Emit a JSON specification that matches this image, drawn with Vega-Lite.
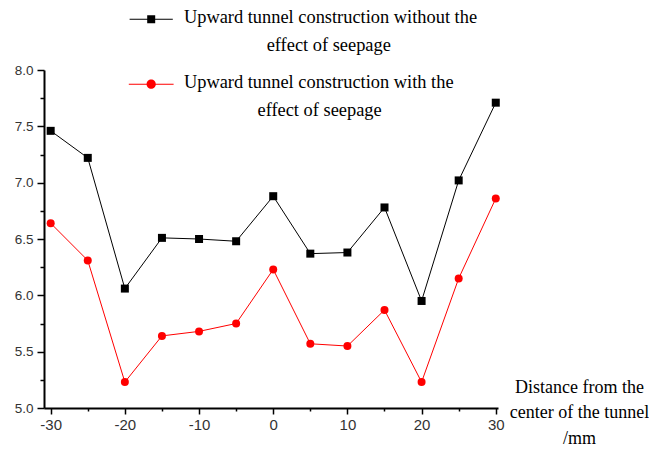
{
  "$schema": "https://vega.github.io/schema/vega-lite/v6.json",
  "width": 454,
  "height": 338,
  "autosize": {"type": "none"},
  "padding": {"left": 44, "top": 70, "right": 151, "bottom": 44},
  "background": "white",
  "config": {"view": {"stroke": null}, "axis": {"grid": false}},
  "data": {
    "values": [
      {"x": -30, "y": 7.46, "s": "A"},
      {"x": -25, "y": 7.22, "s": "A"},
      {"x": -20, "y": 6.06, "s": "A"},
      {"x": -15, "y": 6.51, "s": "A"},
      {"x": -10, "y": 6.50, "s": "A"},
      {"x": -5, "y": 6.48, "s": "A"},
      {"x": 0, "y": 6.88, "s": "A"},
      {"x": 5, "y": 6.37, "s": "A"},
      {"x": 10, "y": 6.38, "s": "A"},
      {"x": 15, "y": 6.78, "s": "A"},
      {"x": 20, "y": 5.95, "s": "A"},
      {"x": 25, "y": 7.02, "s": "A"},
      {"x": 30, "y": 7.71, "s": "A"},
      {"x": -30, "y": 6.64, "s": "B"},
      {"x": -25, "y": 6.31, "s": "B"},
      {"x": -20, "y": 5.23, "s": "B"},
      {"x": -15, "y": 5.64, "s": "B"},
      {"x": -10, "y": 5.68, "s": "B"},
      {"x": -5, "y": 5.75, "s": "B"},
      {"x": 0, "y": 6.23, "s": "B"},
      {"x": 5, "y": 5.57, "s": "B"},
      {"x": 10, "y": 5.55, "s": "B"},
      {"x": 15, "y": 5.87, "s": "B"},
      {"x": 20, "y": 5.23, "s": "B"},
      {"x": 25, "y": 6.15, "s": "B"},
      {"x": 30, "y": 6.86, "s": "B"}
    ]
  },
  "encoding": {
    "x": {
      "field": "x",
      "type": "quantitative",
      "scale": {"domain": [-30.9, 30.3], "nice": false, "zero": false},
      "axis": {
        "values": [-30, -25, -20, -15, -10, -5, 0, 5, 10, 15, 20, 25, 30],
        "labelExpr": "datum.value % 10 === 0 ? ('' + datum.value) : ''",
        "tickSize": {"condition": {"test": "datum.value % 10 === 0", "value": 6}, "value": 3},
        "tickWidth": 1.5,
        "tickColor": "#000000",
        "domainColor": "#000000",
        "domainWidth": 2,
        "labelFont": "Liberation Sans",
        "labelFontSize": 15,
        "labelColor": "#333333",
        "labelPadding": 3,
        "title": ["Distance from the", "center of the tunnel", "/mm"],
        "titleFont": "Liberation Serif",
        "titleFontSize": 18,
        "titleFontWeight": "normal",
        "titleColor": "#000000",
        "titleAlign": "center",
        "titleBaseline": "alphabetic",
        "titleX": 535,
        "titleY": -16,
        "titleLineHeight": 25.5
      }
    },
    "y": {
      "field": "y",
      "type": "quantitative",
      "scale": {"domain": [5, 8], "nice": false, "zero": false},
      "axis": {
        "values": [5, 5.25, 5.5, 5.75, 6, 6.25, 6.5, 6.75, 7, 7.25, 7.5, 7.75, 8],
        "labelExpr": "(datum.value * 2) % 1 === 0 ? format(datum.value, '.1f') : ''",
        "tickSize": {"condition": {"test": "(datum.value * 2) % 1 === 0", "value": 7}, "value": 4},
        "tickWidth": 1.5,
        "tickColor": "#000000",
        "domainColor": "#000000",
        "domainWidth": 2,
        "labelFont": "Liberation Sans",
        "labelFontSize": 13.5,
        "labelColor": "#333333",
        "labelPadding": 4,
        "title": null
      }
    }
  },
  "layer": [
    {
      "transform": [{"filter": "false"}],
      "mark": {"type": "point", "filled": true, "size": 64, "opacity": 1},
      "encoding": {
        "shape": {
          "field": "s",
          "type": "nominal",
          "scale": {"domain": ["A", "B"], "range": ["M-5.4,-1.12H5.4V-0.88H-5.4ZM-1,-2H1V0H-1Z", "M-5.6,-1.12H5.6V-0.88H-5.6ZM1.15,-1A1.15,1.15,0,1,1,-1.15,-1A1.15,1.15,0,1,1,1.15,-1Z"]}
        },
        "color": {
          "field": "s",
          "type": "nominal",
          "scale": {"domain": ["A", "B"], "range": ["#000000", "#ff0000"]},
          "legend": {
            "orient": "none",
            "legendX": 98,
            "legendY": -56,
            "title": null,
            "padding": 0,
            "labelFont": "Liberation Serif",
            "labelFontSize": 18.4,
            "labelColor": "#000000",
            "labelLimit": 500,
            "labelOffset": 23.5,
            "labelBaseline": "alphabetic",
            "rowPadding": 18,
            "symbolSize": 64,
            "symbolOpacity": 1,
            "symbolStrokeWidth": 0,
            "labelExpr": "datum.value === 'A' ? ['Upward tunnel construction without the', '\u200b\u00a0\u00a0\u00a0\u00a0\u00a0\u00a0\u00a0\u00a0\u00a0\u00a0\u00a0\u00a0\u00a0\u00a0\u00a0\u00a0\u00a0\u00a0effect of seepage'] : ['Upward tunnel construction with the', '\u200b\u00a0\u00a0\u00a0\u00a0\u00a0\u00a0\u00a0\u00a0\u00a0\u00a0\u00a0\u00a0\u00a0\u00a0\u00a0\u00a0effect of seepage']",
            "encoding": {
              "labels": {"lineHeight": {"value": 28}}
            }
          }
        }
      }
    },
    {
      "mark": {"type": "line", "strokeWidth": 1},
      "encoding": {
        "color": {"field": "s", "type": "nominal"}
      }
    },
    {
      "transform": [{"filter": "datum.s === 'A'"}],
      "mark": {"type": "point", "filled": true, "size": 64, "opacity": 1, "shape": "square"},
      "encoding": {
        "color": {"field": "s", "type": "nominal"}
      }
    },
    {
      "transform": [{"filter": "datum.s === 'B'"}],
      "mark": {"type": "point", "filled": true, "size": 64, "opacity": 1, "shape": "circle"},
      "encoding": {
        "color": {"field": "s", "type": "nominal"}
      }
    }
  ]
}
